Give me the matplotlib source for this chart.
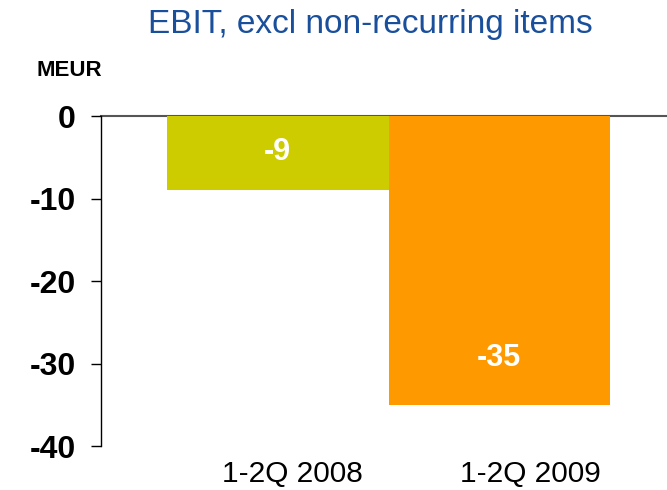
import matplotlib
matplotlib.use("Agg")
import matplotlib.pyplot as plt

plt.rcParams['font.family'] = ['Liberation Sans', 'DejaVu Sans']

categories = ['1-2Q 2008', '1-2Q 2009']
values = [-9, -35]
bar_colors = ['#cccc00', '#ff9900']
label_y = [-4.4, -29.3]          # where the value labels sit
cat_label_x = [0.064, 1.139]     # category labels are offset from bar centres
yticks = [0, -10, -20, -30, -40]

fig = plt.figure(figsize=(6.67, 4.9), dpi=100)
ax = fig.add_axes([101 / 667, 44 / 490, 566 / 667, 330 / 490])

x = range(len(values))
ax.bar(x, values, width=1.0, color=bar_colors, zorder=2)

for xi, v, ly in zip(x, values, label_y):
    ax.text(xi, ly, str(v), ha='center', va='center', color='white',
            fontsize=22, fontweight='bold', zorder=3)

ax.set_xlim(-0.798, 1.757)
ax.set_ylim(-40, 0)

ax.set_yticks(yticks)
ax.set_yticklabels([str(t) for t in yticks], fontsize=23, fontweight='bold')
ax.tick_params(axis='y', length=7, width=1, pad=11, direction='out')

ax.set_xticks(cat_label_x)
ax.set_xticklabels(categories, fontsize=21.5)
ax.tick_params(axis='x', length=0, pad=10)

ax.spines['right'].set_visible(False)
ax.spines['bottom'].set_visible(False)
ax.spines['top'].set_color('#555555')
ax.spines['top'].set_linewidth(1.5)
ax.spines['top'].set_zorder(1)
ax.spines['left'].set_linewidth(1)

fig.text(370 / 667, 1 - 25 / 490, 'EBIT, excl non-recurring items',
         ha='center', va='center', fontsize=24, color='#1a4f9c')
fig.text(37 / 667, 1 - 70 / 490, 'MEUR', ha='left', va='center',
         fontsize=16, fontweight='bold')

fig.savefig('out.png', dpi=100)
